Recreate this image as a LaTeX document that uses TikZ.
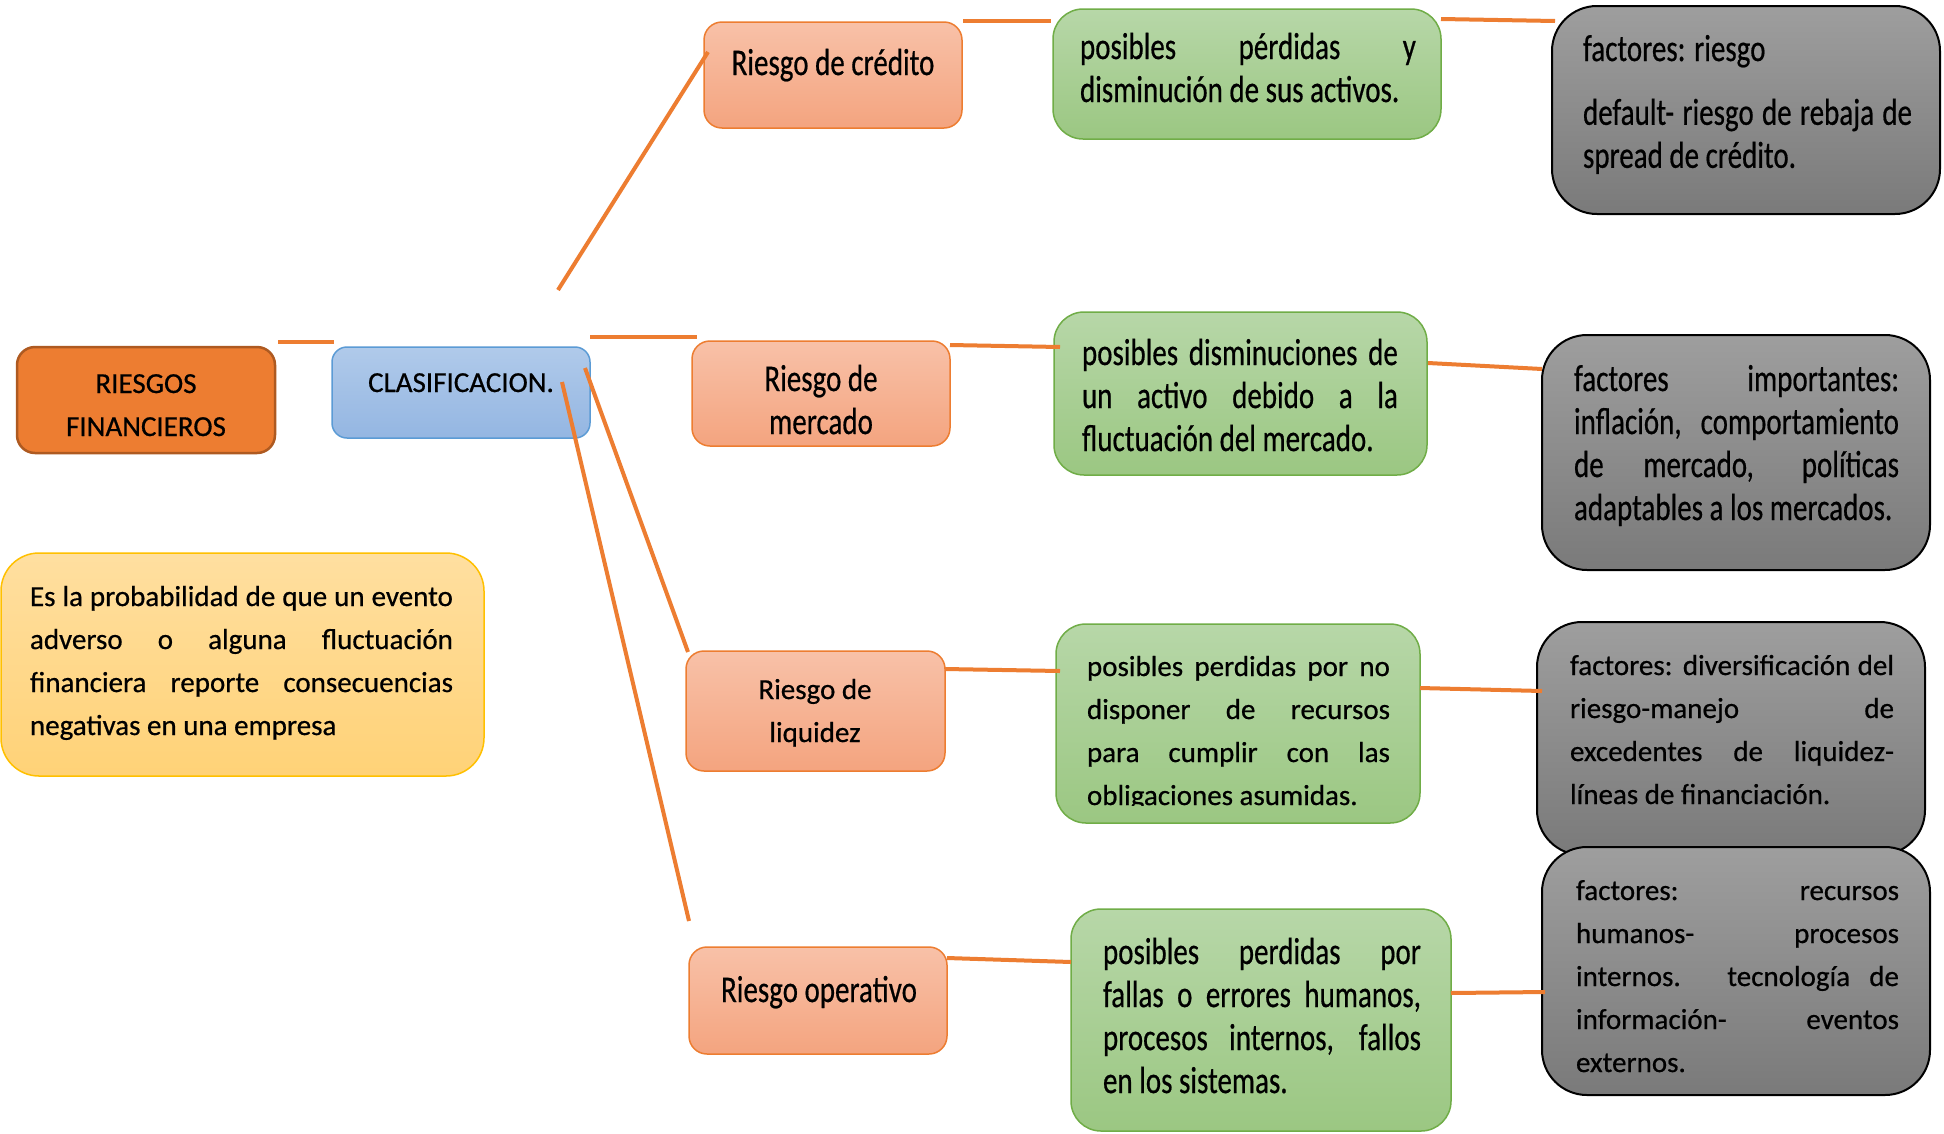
\documentclass[tikz,border=0pt]{standalone}
\usepackage{fontspec}
\setmainfont{Carlito}[FakeBold=0.6]
\usepackage{graphicx}
\definecolor{lineor}{HTML}{ED7D31}
\definecolor{darkor}{HTML}{ED7D31}
\definecolor{darkorb}{HTML}{AE5A21}
\definecolor{saltop}{HTML}{F8C1A8}
\definecolor{salbot}{HTML}{F4A47F}
\definecolor{bluetop}{HTML}{B0CAEA}
\definecolor{bluebot}{HTML}{94B6E2}
\definecolor{blueb}{HTML}{5B9BD5}
\definecolor{grtop}{HTML}{B7D7A8}
\definecolor{grbot}{HTML}{9BC782}
\definecolor{grb}{HTML}{70AD47}
\definecolor{gytop}{HTML}{9E9E9E}
\definecolor{gybot}{HTML}{7A7A7A}
\definecolor{yetop}{HTML}{FFDFA0}
\definecolor{yebot}{HTML}{FFD277}
\definecolor{yeb}{HTML}{FFC000}
\newcommand\jline[1]{\makebox[\linewidth][s]{#1}}
\newcommand\normtext[2]{\parbox[t]{#1}{\fontsize{29}{43}\selectfont #2}}
\newcommand\strtext[2]{\scalebox{1}[1.3]{\parbox[t]{#1}{\fontsize{29}{33.08}\selectfont #2}}}
\newcommand\normctext[1]{\parbox[t]{250pt}{\centering\fontsize{29}{43}\selectfont #1}}
\newcommand\strctext[1]{\scalebox{1}[1.3]{\parbox[t]{250pt}{\centering\fontsize{29}{33.08}\selectfont #1}}}
\begin{document}
\begin{tikzpicture}[x=1pt,y=-1pt,
  box/.style={anchor=north west, inner sep=0pt, outer sep=0pt},
  mainbox/.style={box, fill=darkor, draw=darkorb, line width=2.5pt, rounded corners=18pt},
  clbox/.style={box, top color=bluetop, bottom color=bluebot, draw=blueb, line width=1.5pt, rounded corners=15pt},
  salbox/.style={box, top color=saltop, bottom color=salbot, draw=lineor, line width=1.5pt, rounded corners=18pt},
  grbox/.style={box, top color=grtop, bottom color=grbot, draw=grb, line width=1.5pt, rounded corners=30pt},
  gybox/.style={box, top color=gytop, bottom color=gybot, draw=black, line width=2pt, rounded corners=45pt},
  yebox/.style={box, top color=yetop, bottom color=yebot, draw=yeb, line width=1.5pt, rounded corners=38pt},
  tx/.style={anchor=base west, inner sep=0pt, outer sep=0pt},
  txc/.style={anchor=base, inner sep=0pt, outer sep=0pt},
  conn/.style={draw=lineor, line width=4pt}
]
\useasboundingbox (0,0) rectangle (1944,1133);
\fill[white] (0,0) rectangle (1944,1133);

% boxes
\node[mainbox, minimum width=258pt, minimum height=106pt] (rf) at (17,347) {};
\node[clbox, minimum width=258pt, minimum height=91pt] (cl) at (332,347) {};
\node[salbox, minimum width=258pt, minimum height=106pt] (rc) at (704,22) {};
\node[salbox, minimum width=258pt, minimum height=105pt] (rm) at (692,341) {};
\node[salbox, minimum width=259pt, minimum height=120pt] (rl) at (686,651) {};
\node[salbox, minimum width=258pt, minimum height=107pt] (ro) at (689,947) {};
\node[grbox, minimum width=388pt, minimum height=130pt] (g1) at (1053,9) {};
\node[grbox, minimum width=373pt, minimum height=163pt] (g2) at (1054,312) {};
\node[grbox, minimum width=364pt, minimum height=199pt] (g3) at (1056,624) {};
\node[grbox, minimum width=380pt, minimum height=222pt] (g4) at (1071,909) {};
\node[gybox, minimum width=388pt, minimum height=208pt] (k1) at (1552,6) {};
\node[gybox, minimum width=388pt, minimum height=235pt] (k2) at (1542,335) {};
\node[gybox, minimum width=388pt, minimum height=233pt] (k3) at (1537,622) {};
\node[gybox, minimum width=388pt, minimum height=248pt] (k4) at (1542,847) {};
\node[yebox, minimum width=483pt, minimum height=223pt] (ye) at (1,553) {};

% texts
\node[txc] (trf) at (146,393) {\normctext{RIESGOS\\FINANCIEROS}};
\node[txc] (tcl) at (461,392) {\normctext{CLASIFICACION.}};
\node[txc] (trc) at (833,75) {\strctext{Riesgo de crédito}};
\node[txc] (trm) at (821,391) {\strctext{Riesgo de\\mercado}};
\node[txc] (trl) at (815,699) {\normctext{Riesgo de\\liquidez}};
\node[txc] (tro) at (819,1002) {\strctext{Riesgo operativo}};

\node[tx] (tg1) at (1080,59) {\strtext{336pt}{\jline{posibles pérdidas y}\\disminución de sus activos.}};
\node[tx] (tg2) at (1082,365) {\strtext{316pt}{\jline{posibles disminuciones de}\\\jline{un activo debido a la}\\fluctuación del mercado.}};
\begin{scope}
\clip (1056,624) rectangle (1420,805);
\node[tx] (tg3) at (1087,676) {\normtext{303pt}{\jline{posibles perdidas por no}\\\jline{disponer de recursos}\\\jline{para cumplir con las}\\obligaciones asumidas.}};
\end{scope}
\node[tx] (tg4) at (1103,964) {\strtext{318pt}{\jline{posibles perdidas por}\\\jline{fallas o errores humanos,}\\\jline{procesos internos, fallos}\\en los sistemas.}};

\node[tx] (tk1) at (1583,61) {\strtext{329pt}{factores: riesgo\\[16pt]\jline{default- riesgo de rebaja de}\\spread de crédito.}};
\node[tx] (tk2) at (1574,391) {\strtext{325pt}{\jline{factores importantes:}\\\jline{inflación, comportamiento}\\\jline{de mercado, políticas}\\adaptables a los mercados.}};
\node[tx] (tk3) at (1570,675) {\normtext{324pt}{\jline{factores: diversificación del}\\\jline{riesgo-manejo de}\\\jline{excedentes de liquidez-}\\líneas de financiación.}};
\node[tx] (tk4) at (1576,900) {\normtext{323pt}{\jline{factores: recursos}\\\jline{humanos- procesos}\\\jline{internos. tecnología de}\\\jline{información- eventos}\\externos.}};
\node[tx] (tye) at (30,606) {\normtext{423pt}{\jline{Es la probabilidad de que un evento}\\\jline{adverso o alguna fluctuación}\\\jline{financiera reporte consecuencias}\\negativas en una empresa}};

% connector end points
\coordinate (a1) at (278,342); \coordinate (b1) at (334,342);
\coordinate (a2) at (558,290); \coordinate (b2) at (708,52);
\coordinate (a3) at (590,337); \coordinate (b3) at (697,337);
\coordinate (a4) at (585,368); \coordinate (b4) at (688,652);
\coordinate (a5) at (562,382); \coordinate (b5) at (689,921);
\coordinate (a6) at (963,21); \coordinate (b6) at (1051,21);
\coordinate (a7) at (1441,19); \coordinate (b7) at (1555,21);
\coordinate (a8) at (950,345); \coordinate (b8) at (1060,347);
\coordinate (a9) at (1428,363); \coordinate (b9) at (1542,369);
\coordinate (a10) at (945,669); \coordinate (b10) at (1060,671);
\coordinate (a11) at (1420,688); \coordinate (b11) at (1542,691);
\coordinate (a12) at (947,958); \coordinate (b12) at (1071,962);
\coordinate (a13) at (1451,993); \coordinate (b13) at (1545,992);

\foreach \i in {1,...,13} {\draw[conn] (a\i) -- (b\i);}
\end{tikzpicture}
\end{document}
